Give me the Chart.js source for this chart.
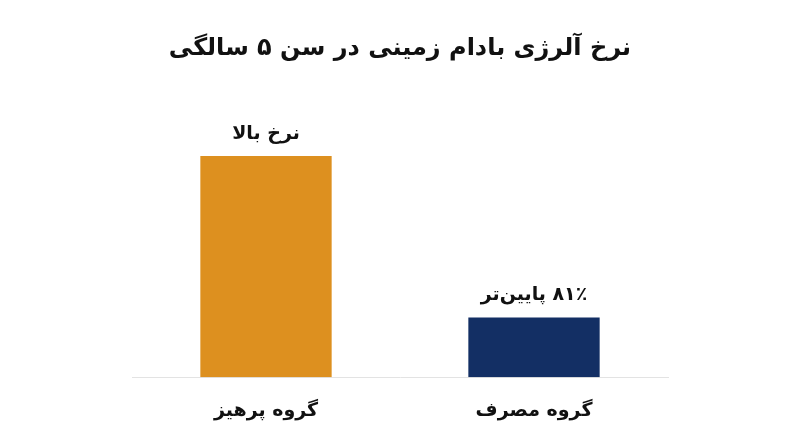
<!DOCTYPE html>
<html lang="fa">
<head>
<meta charset="utf-8">
<script src="https://cdn.jsdelivr.net/npm/chart.js@4.4.1/dist/chart.umd.min.js"></script>
<style>
  html, body { margin: 0; padding: 0; background: #fff; }
  #wrap { width: 800px; height: 447px; }
</style>
</head>
<body>
<div id="wrap"><canvas id="allergyChart"></canvas></div>
<script>
// peanut allergy rate at age 5 — relative bar heights
const categories = ['گروه پرهیز', 'گروه مصرف'];
const rates = [100, 27];
const barLabels = ['نرخ بالا', '۸۱٪ پایین‌تر'];
const barColors = ['#DD901F', '#132F64'];
const chartTitle = 'نرخ آلرژی بادام زمینی در سن ۵ سالگی';

const fontFamily = '"DejaVu Sans", sans-serif';

// text above each bar
const barLabelPlugin = {
  id: 'barLabels',
  afterDatasetsDraw(chart) {
    const { ctx } = chart;
    const meta = chart.getDatasetMeta(0);
    ctx.save();
    ctx.font = 'bold 19px ' + fontFamily;
    ctx.fillStyle = '#111';
    ctx.textAlign = 'center';
    ctx.textBaseline = 'bottom';
    ctx.direction = 'rtl';
    meta.data.forEach((bar, i) => {
      ctx.fillText(barLabels[i], bar.x, bar.y - 13);
    });
    ctx.restore();
  }
};

const chart = new Chart(document.getElementById('allergyChart'), {
  type: 'bar',
  data: {
    labels: categories,
    datasets: [{
      data: rates,
      backgroundColor: barColors,
      borderWidth: 0,
      categoryPercentage: 0.7,
      barPercentage: 0.7,
    }],
  },
  options: {
    responsive: true,
    maintainAspectRatio: false,
    animation: false,
    layout: { padding: { left: 132, right: 132, top: 0, bottom: 3 } },
    plugins: {
      legend: { display: false },
      tooltip: { enabled: false },
      title: {
        display: true,
        text: chartTitle,
        color: '#111',
        font: { family: fontFamily, size: 24, weight: 'bold' },
        padding: { top: 34, bottom: 38 },
      },
    },
    scales: {
      x: {
        grid: { display: false, drawTicks: false },
        border: { display: true, color: '#e3e3e3', width: 1 },
        ticks: { color: '#111', padding: 22, font: { family: fontFamily, size: 19, weight: 'bold' } },
      },
      y: {
        display: false,
        min: 0,
        max: 125,
      },
    },
  },
  plugins: [barLabelPlugin],
});
</script>
</body>
</html>
